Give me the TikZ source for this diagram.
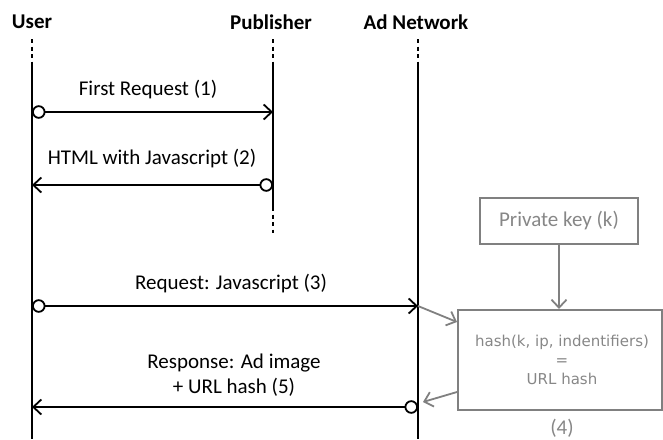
\documentclass[tikz,border=0pt]{standalone}
\usepackage{fontspec}
\setmainfont{Carlito}
\newfontfamily\hashfont{DejaVu Sans}
\usetikzlibrary{arrows.meta}
\definecolor{boxgray}{RGB}{128,128,128}
\definecolor{txtgray}{RGB}{135,135,135}
\tikzset{
  actor/.style={font=\bfseries\fontsize{21}{24}\selectfont, inner sep=0pt},
  lifeline/.style={line width=2pt, black},
  lifedash/.style={line width=2pt, black, dash pattern=on 4pt off 3.5pt},
  msg/.style={line width=2pt, black, -{Straight Barb[length=8pt,width=15pt,line width=1.8pt]}},
  msgfrom/.style={msg, {Circle[open,length=13.5pt,width=13.5pt,line width=1.8pt,fill=white]}-{Straight Barb[length=8pt,width=15pt,line width=1.8pt]}},
  msglabel/.style={font=\fontsize{21}{25}\selectfont, inner sep=0pt, align=center},
  graybox/.style={draw=boxgray, line width=2pt, inner sep=0pt},
  grayarrow/.style={line width=1.8pt, boxgray, -{Straight Barb[length=8pt,width=15pt,line width=1.8pt]}},
}
\begin{document}
\begin{tikzpicture}[x=1pt,y=-1pt]
\useasboundingbox (0,0) rectangle (663,439);

% participants
\node[actor] (user) at (32,22) {User};
\node[actor] (pub) at (271,22) {Publisher};
\node[actor] (adn) at (416,22) {Ad Network};

% lifelines
\coordinate (uTop) at (32,39);
\coordinate (uMid) at (32,63);
\coordinate (uBot) at (32,439);
\coordinate (pTop) at (273,39);
\coordinate (pMid) at (273,63);
\coordinate (pEnd) at (273,207);
\coordinate (pBot) at (273,233);
\coordinate (aTop) at (418,39);
\coordinate (aMid) at (418,63);
\coordinate (aBot) at (418,439);
\draw[lifedash] (uTop) -- (uMid);
\draw[lifeline] (uMid) -- (uBot);
\draw[lifedash] (pTop) -- (pMid);
\draw[lifeline] (pMid) -- (pEnd);
\draw[lifedash] (pEnd) -- (pBot);
\draw[lifedash] (aTop) -- (aMid);
\draw[lifeline] (aMid) -- (aBot);

% messages
\coordinate (m1u) at (32,112);  \coordinate (m1p) at (273,112);
\coordinate (m2u) at (32,185);  \coordinate (m2p) at (273,185);
\coordinate (m3u) at (32,306);  \coordinate (m3a) at (418,306);
\coordinate (m5u) at (32,407);  \coordinate (m5a) at (418,407);
\draw[msgfrom] (m1u) -- (m1p);
\draw[msgfrom] (m2p) -- (m2u);
\draw[msgfrom] (m3u) -- (m3a);
\draw[msgfrom] (m5a) -- (m5u);

\node[msglabel] (l1) at (148,90) {First Request (1)};
\node[msglabel] (l2) at (152,159) {HTML with Javascript (2)};
\node[msglabel] (l3) at (231,284) {Request: Javascript (3)};
\node[msglabel] (l5) at (234,375) {Response: Ad image\\+ URL hash (5)};

% key and hashing on the ad network side
\node[graybox, minimum width=158pt, minimum height=46pt, font=\fontsize{21}{25}\selectfont, text=txtgray] (key) at (559,221) {Private key (k)};
\node[graybox, minimum width=204pt, minimum height=100pt] (hash) at (560,360) {};
\node[font=\hashfont\fontsize{15}{19}\selectfont, text=txtgray, align=center, inner sep=0pt] (hashtxt) at (562,360) {hash(k, ip, indentifiers)\\=\\URL hash};
\node[font=\fontsize{21}{25}\selectfont, text=txtgray, inner sep=0pt] (step4) at (562,428) {(4)};

\draw[grayarrow] (key.south) -- (key.south |- hash.north);
\draw[grayarrow] (m3a) -- (hash.west |- 0,322);
\draw[grayarrow] (hash.west |- 0,392) -- (423,402);
\end{tikzpicture}
\end{document}
